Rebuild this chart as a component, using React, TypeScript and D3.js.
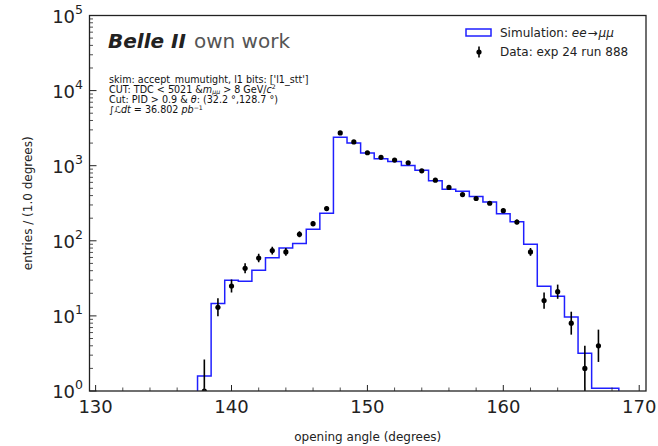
import React from "react";
import * as d3 from "d3";

// Opening-angle histogram: simulated ee→μμ (step line) against data (points with errors)
const simAngles = [138, 139, 140, 141, 142, 143, 144, 145, 146, 147, 148, 149, 150, 151, 152, 153, 154, 155, 156, 157, 158, 159, 160, 161, 162, 163, 164, 165, 166, 167, 168];
const simEntries = [1.59, 14.6, 29.8, 28.9, 40.6, 59.4, 80, 92, 142, 232, 2390, 2005, 1473, 1236, 1141, 1009, 873, 628, 487, 458, 388, 329, 230, 180, 90, 24.8, 18.2, 9.67, 3.19, 1.09, 1.09];

const dataAngles = [138, 139, 140, 141, 142, 143, 144, 145, 146, 147, 148, 149, 150, 151, 152, 153, 154, 155, 156, 157, 158, 159, 160, 161, 162, 163, 164, 165, 166, 167];
const dataCounts = [1, 13, 25, 43, 59, 74, 71, 122, 169, 269, 2728, 2070, 1487, 1291, 1188, 1094, 855, 641, 513, 413, 366, 316, 252, 178, 71, 16, 21, 8, 2, 4];

const binWidth = 1;
const xMajorTicks = [130, 140, 150, 160, 170];
const xMinorTicks = [132, 134, 136, 138, 142, 144, 146, 148, 152, 154, 156, 158, 162, 164, 166, 168];
const yDecades = [0, 1, 2, 3, 4, 5];

const infoLines = ["skim: accept_mumutight, l1 bits: ['l1_stt']"];

const W = 658;
const H = 446;
const left = 89.5;
const right = 646;
const top = 15.5;
const bottom = 391;
const FONT = "DejaVu Sans, sans-serif";
const INK = "#222";
const SIM_BLUE = "#1f1fff";

export default function App() {
  const x = d3.scaleLinear().domain([129.55, 170.5]).range([left, right]);
  const y = d3.scaleLog().domain([1, 1e5]).range([bottom, top]);
  const floorVal = 0.3;

  // step outline of the simulated histogram
  const stepPts: [number, number][] = [];
  simAngles.forEach((a, i) => {
    const lo = a - binWidth / 2;
    const hi = a + binWidth / 2;
    if (i === 0) stepPts.push([lo, floorVal]);
    stepPts.push([lo, simEntries[i]]);
    stepPts.push([hi, simEntries[i]]);
    if (i === simAngles.length - 1) stepPts.push([hi, floorVal]);
  });
  const stepLine = d3
    .line<[number, number]>()
    .x((d) => x(d[0]))
    .y((d) => y(d[1]));

  const yMinor: number[] = [];
  for (let k = 0; k < 5; k++) for (let m = 2; m <= 9; m++) yMinor.push(m * Math.pow(10, k));

  const errLo = (n: number) => Math.max(n + 0.5 - Math.sqrt(n + 0.25), floorVal);
  const errHi = (n: number) => n + 0.5 + Math.sqrt(n + 0.25);

  return (
    <svg width={W} height={H} style={{ position: "absolute", left: 0, top: 0, background: "#fff" }} fontFamily={FONT}>
      <defs>
        <clipPath id="plotArea">
          <rect x={left} y={top} width={right - left} height={bottom - top} />
        </clipPath>
      </defs>
      <rect x={0} y={0} width={W} height={H} fill="#fff" />

      <g clipPath="url(#plotArea)">
        <path d={stepLine(stepPts) || ""} fill="none" stroke={SIM_BLUE} strokeWidth={1.5} />
        {dataAngles.map((a, i) => (
          <g key={a}>
            <line x1={x(a)} x2={x(a)} y1={y(errLo(dataCounts[i]))} y2={y(errHi(dataCounts[i]))} stroke="#000" strokeWidth={1.6} />
            <circle cx={x(a)} cy={y(dataCounts[i])} r={2.6} fill="#000" />
          </g>
        ))}
      </g>

      {/* frame */}
      <rect x={left} y={top} width={right - left} height={bottom - top} fill="none" stroke={INK} strokeWidth={1.3} />

      {/* x ticks */}
      {xMajorTicks.map((t) => (
        <g key={"xM" + t}>
          <line x1={x(t)} x2={x(t)} y1={bottom} y2={bottom - 6} stroke={INK} strokeWidth={1} />
          <text x={x(t)} y={bottom + 22} textAnchor="middle" fontSize={18} fill={INK}>
            {t}
          </text>
        </g>
      ))}
      {xMinorTicks.map((t) => (
        <line key={"xm" + t} x1={x(t)} x2={x(t)} y1={bottom} y2={bottom - 3.5} stroke={INK} strokeWidth={0.8} />
      ))}

      {/* y ticks */}
      {yDecades.map((k) => {
        const v = Math.pow(10, k);
        return (
          <g key={"yM" + k}>
            <line x1={left} x2={left + 7} y1={y(v)} y2={y(v)} stroke={INK} strokeWidth={1} />
            <text x={83} y={y(v) + 7} textAnchor="end" fontSize={18} fill={INK}>
              <tspan>10</tspan>
              <tspan dy={-9} fontSize={12.5}>
                {k}
              </tspan>
            </text>
          </g>
        );
      })}
      {yMinor.map((v) => (
        <line key={"ym" + v} x1={left} x2={left + 3.5} y1={y(v)} y2={y(v)} stroke={INK} strokeWidth={0.8} />
      ))}

      {/* axis titles */}
      <text x={(left + right) / 2} y={441} textAnchor="middle" fontSize={12} fill={INK}>
        opening angle (degrees)
      </text>
      <text transform={`translate(32,${(top + bottom) / 2}) rotate(-90)`} textAnchor="middle" fontSize={12} fill={INK}>
        entries / (1.0 degrees)
      </text>

      {/* experiment label */}
      <text x={108} y={47.5} fontSize={20} fill={INK}>
        <tspan fontWeight="bold" fontStyle="italic">Belle II</tspan>
        <tspan dx={8} fill="#555">own work</tspan>
      </text>

      <g fontSize={9.6} fill="#111">
        <text x={109} y={82.8}>{infoLines[0]}</text>
        <text x={109} y={92.8}>
          <tspan>CUT: TDC &lt; 5021 &amp;</tspan>
          <tspan fontStyle="italic">m</tspan>
          <tspan fontStyle="italic" fontSize={6.2} dy={1}>μμ</tspan>
          <tspan dy={-1}> &gt; 8 GeV/</tspan>
          <tspan fontStyle="italic">c</tspan>
          <tspan fontSize={6.2} dy={-3.5}>2</tspan>
        </text>
        <text x={109} y={103.2}>
          <tspan>Cut: PID &gt; 0.9 &amp; </tspan>
          <tspan fontStyle="italic">θ</tspan>
          <tspan>: (32.2 °,128.7 °)</tspan>
        </text>
        <text x={109} y={113.4}>
          <tspan fontSize={9.6}>∫</tspan>
          <tspan fontStyle="italic">ℒdt</tspan>
          <tspan> = 36.802</tspan>
          <tspan fontStyle="italic" dx={3}>pb</tspan>
          <tspan fontSize={6.2} dy={-3.5}>−1</tspan>
        </text>
      </g>

      {/* legend */}
      <rect x={466} y={29} width={25} height={7} fill="#fff" stroke={SIM_BLUE} strokeWidth={1.5} />
      <text x={500} y={37} fontSize={12} fill={INK}>
        <tspan>Simulation: </tspan>
        <tspan fontStyle="italic">ee</tspan>
        <tspan dx={1}>→</tspan>
        <tspan fontStyle="italic" dx={1}>μμ</tspan>
      </text>
      <line x1={479} x2={479} y1={46.5} y2={57.5} stroke="#000" strokeWidth={1.6} />
      <circle cx={479} cy={52} r={2.6} fill="#000" />
      <text x={500} y={56.3} fontSize={12} fill={INK}>
        Data: exp 24 run 888
      </text>
    </svg>
  );
}
